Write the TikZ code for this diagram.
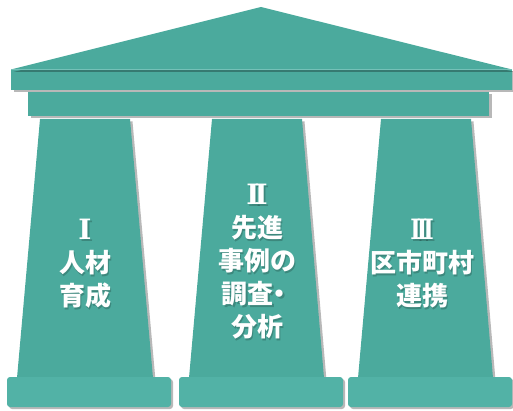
\documentclass[tikz,border=0pt]{standalone}
\usepackage{fontspec}
\newfontfamily\cjk{Noto Sans CJK JP}
\newfontfamily\romf{DejaVu Serif}
\usetikzlibrary{shadows}
\definecolor{teal1}{RGB}{75,170,157}
\definecolor{teal2}{RGB}{82,178,166}
\newcommand{\rnum}[1]{{\romf\bfseries\fontsize{28}{33}\selectfont #1}}
\tikzset{
  part/.style={fill=teal1, drop shadow={shadow xshift=2.5pt, shadow yshift=-2.5pt, opacity=0.28, fill=black}},
  basepart/.style={fill=teal2, rounded corners=3pt, drop shadow={shadow xshift=2pt, shadow yshift=-2pt, opacity=0.28, fill=black}},
  label/.style={text=white, align=center, font=\cjk\bfseries\fontsize{26}{33}\selectfont, inner sep=0pt},
  labelshadow/.style={label, text=black, text opacity=0.2}
}
\newcommand{\tI}{\rnum{I}\\人材\\育成}
\newcommand{\tII}{\rnum{I\kern-5pt I}\\先進\\事例の\\調査\kern-7pt・\\分析}
\newcommand{\tIII}{\scalebox{0.8}[1]{\rnum{I\kern-5pt I\kern-5pt I}}\\区市町村\\連携}
\begin{document}
\begin{tikzpicture}[x=1pt,y=-1pt]
\useasboundingbox (0,0) rectangle (513,411);
% columns
\path[part] (40,119) -- (130,119) -- (153,378) -- (17,378) -- cycle;
\path[part] (212,119) -- (302,119) -- (324,378) -- (189,378) -- cycle;
\path[part] (381,119) -- (471,119) -- (493,378) -- (358,378) -- cycle;
% bases
\path[basepart] (7,377) rectangle (171,407);
\path[basepart] (179,377) rectangle (343,407);
\path[basepart] (348,377) rectangle (512,407);
% entablature
\path[part] (28,92) rectangle (489,116);
\path[part] (11,69) rectangle (512,90);
% roof
\path[part] (11,69.5) -- (261,7) -- (512,69.5) -- cycle;
\draw[teal2!80!white, line width=0.6pt] (11,69.5) -- (512,69.5);
% label shadows
\node[labelshadow] (s1) at (86.8,265.8) {\tI};
\node[labelshadow] (s2) at (258.8,263.8) {\tII};
\node[labelshadow] (s3) at (423.8,265.8) {\tIII};
% labels
\node[label] (p1) at (85,264) {\tI};
\node[label] (p2) at (257,262) {\tII};
\node[label] (p3) at (422,264) {\tIII};
\end{tikzpicture}
\end{document}
